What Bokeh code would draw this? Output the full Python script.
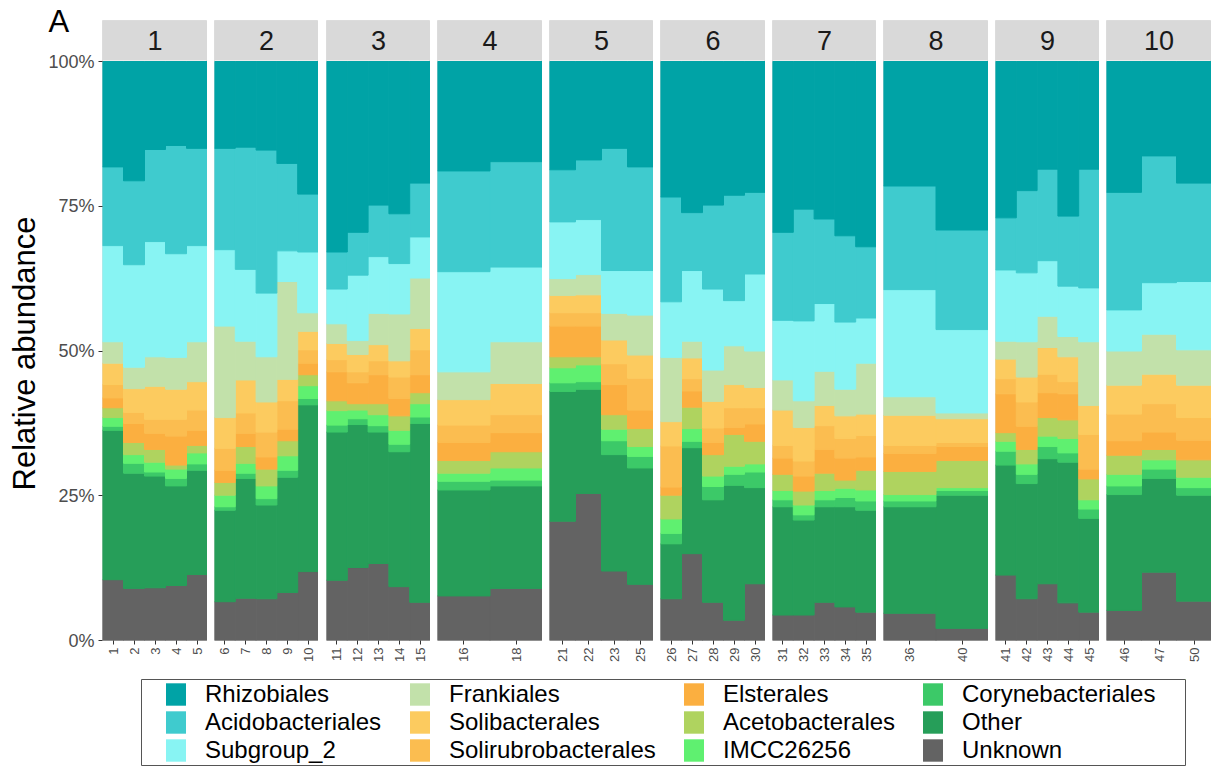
import math
from bokeh.plotting import figure
from bokeh.models import (FactorRange, Range1d, FixedTicker, BoxAnnotation, Label,
                          Legend, LegendItem, ColumnDataSource, Title)
from bokeh.layouts import row, column
from bokeh.embed import file_html
from bokeh.resources import INLINE

FONT = "Liberation Sans"

# ---------------- data ----------------
panel_names = ["1", "2", "3", "4", "5", "6", "7", "8", "9", "10"]
panel_samples = [
    ["1", "2", "3", "4", "5"],
    ["6", "7", "8", "9", "10"],
    ["11", "12", "13", "14", "15"],
    ["16", "18"],
    ["21", "22", "23", "25"],
    ["26", "27", "28", "29", "30"],
    ["31", "32", "33", "34", "35"],
    ["36", "40"],
    ["41", "42", "43", "44", "45"],
    ["46", "47", "50"],
]

# legend / stacking order, top of bar first
order_names = ["Rhizobiales", "Acidobacteriales", "Subgroup_2", "Frankiales",
               "Solibacterales", "Solirubrobacterales", "Elsterales", "Acetobacterales",
               "IMCC26256", "Corynebacteriales", "Other", "Unknown"]
order_colors = ["#00A3A6", "#3FCBCE", "#88F4F3", "#C2E1AA",
                "#FCCB5F", "#FBBD50", "#FBAF40", "#AFD35F",
                "#5FF070", "#3CC968", "#269E59", "#636363"]

# relative abundance (%) per sample, samples in panel order
Rhizobiales = [18.2, 20.6, 15.2, 14.5, 15.0, 15.0, 14.8, 15.3, 17.6, 22.9,
               32.9, 29.5, 24.8, 26.3, 21.0, 18.9, 17.3, 18.7, 17.0, 15.0, 18.2,
               23.4, 26.1, 24.8, 23.1, 22.6, 29.5, 25.5, 27.2, 30.1, 32.0,
               21.5, 29.1, 27.0, 22.3, 18.6, 26.7, 18.6, 22.6, 16.3, 21.0]
Acidobacteriales = [13.6, 14.5, 15.9, 18.7, 16.8, 17.5, 21.1, 24.7, 15.1, 10.0,
                    6.4, 7.4, 8.9, 8.6, 9.3, 17.4, 18.2, 9.0, 10.3, 21.1, 17.9,
                    18.1, 10.0, 14.5, 18.2, 14.1, 15.2, 19.3, 14.6, 14.9, 12.3,
                    17.9, 17.2, 9.0, 14.2, 15.8, 12.1, 20.5, 20.3, 21.9, 17.0]
Subgroup_2 = [16.6, 17.7, 19.9, 17.9, 16.6, 13.2, 12.4, 11.0, 5.3, 10.5,
              6.0, 11.3, 9.8, 8.7, 7.1, 17.3, 12.9, 9.8, 9.5, 7.4, 7.7,
              9.6, 12.2, 14.0, 7.8, 13.3, 10.3, 13.8, 11.7, 11.6, 7.8,
              18.5, 14.4, 12.3, 11.9, 9.6, 8.7, 9.3, 7.1, 8.9, 11.8]
Frankiales = [3.7, 3.7, 5.1, 5.5, 6.9, 15.8, 6.7, 7.8, 16.9, 3.2,
              3.4, 2.4, 5.4, 8.1, 8.7, 4.8, 7.2, 2.9, 3.5, 4.6, 6.9,
              11.1, 2.9, 5.4, 6.7, 6.3, 5.2, 4.6, 5.9, 4.6, 8.8,
              3.2, 1.0, 3.1, 6.1, 5.4, 3.5, 11.0, 5.9, 6.9, 6.1]
Solibacterales = [3.7, 4.1, 5.7, 5.2, 4.9, 5.3, 5.7, 5.2, 3.7, 3.2,
                  2.8, 3.0, 2.8, 2.8, 3.7, 4.4, 5.4, 3.0, 3.1, 4.1, 4.0,
                  4.2, 3.6, 4.6, 4.0, 3.5, 6.1, 5.8, 3.5, 3.9, 3.7,
                  5.2, 4.1, 3.4, 4.3, 4.6, 4.3, 5.0, 5.0, 5.1, 5.6]
Solirubrobacterales = [2.3, 1.9, 2.4, 2.9, 3.5, 3.8, 3.5, 4.3, 4.9, 2.3,
                       2.1, 1.9, 2.4, 3.7, 4.3, 3.0, 3.1, 2.3, 2.3, 3.6, 5.5,
                       7.1, 2.1, 2.5, 3.4, 2.8, 2.2, 2.6, 4.1, 3.4, 3.7,
                       1.4, 0.7, 2.6, 4.2, 3.2, 2.1, 6.0, 4.6, 4.9, 3.9]
Elsterales = [1.7, 3.3, 2.8, 5.0, 2.6, 2.1, 2.3, 2.1, 2.0, 2.0,
              5.0, 3.6, 5.0, 3.0, 3.1, 3.1, 3.3, 5.3, 5.3, 5.2, 3.2,
              1.4, 2.8, 2.1, 1.2, 3.0, 2.8, 2.6, 4.1, 3.8, 2.3,
              3.1, 2.4, 6.7, 4.0, 4.3, 4.5, 1.7, 2.5, 3.0, 3.4]
Acetobacterales = [1.7, 2.1, 2.2, 0.7, 1.3, 2.2, 2.9, 2.9, 2.6, 1.9,
                   1.7, 1.1, 1.9, 2.5, 1.9, 2.2, 2.8, 1.9, 1.4, 2.5, 3.1,
                   4.1, 3.7, 3.7, 5.5, 3.9, 2.8, 2.4, 3.0, 1.4, 3.4,
                   4.0, 4.7, 1.5, 2.5, 3.2, 3.2, 3.6, 3.3, 1.8, 3.0]
IMCC26256 = [1.5, 1.5, 1.7, 1.6, 1.9, 2.0, 1.7, 2.2, 2.5, 2.2,
             2.5, 1.5, 1.9, 2.4, 2.3, 1.4, 2.1, 2.6, 2.9, 2.0, 1.7,
             2.5, 2.2, 1.8, 1.4, 1.4, 1.6, 1.7, 1.6, 1.6, 1.9,
             1.1, 0.5, 1.7, 1.8, 1.8, 2.5, 1.6, 2.0, 1.6, 1.8]
Corynebacteriales = [0.7, 1.7, 0.7, 1.3, 1.1, 0.6, 0.9, 1.1, 1.2, 1.1,
                     1.2, 1.0, 1.1, 1.3, 1.1, 1.5, 1.0, 1.5, 1.3, 2.4, 2.0,
                     1.8, 1.1, 2.3, 1.9, 2.7, 1.2, 0.9, 1.2, 1.6, 1.6,
                     1.0, 0.8, 2.4, 1.6, 2.1, 1.6, 1.6, 1.5, 1.6, 1.3]
Other = [25.8, 19.9, 19.3, 17.2, 18.0, 15.8, 20.7, 16.2, 19.9, 28.8,
         25.6, 24.7, 22.7, 23.3, 30.9, 18.3, 17.7, 22.4, 18.0, 20.1, 20.1,
         9.5, 18.3, 17.7, 23.3, 16.6, 18.7, 16.4, 16.5, 17.3, 17.6,
         18.4, 23.0, 19.0, 19.9, 21.6, 24.3, 16.2, 20.0, 16.2, 18.3]
Unknown = [10.5, 9.0, 9.1, 9.5, 11.4, 6.7, 7.3, 7.2, 8.3, 11.9,
           10.4, 12.6, 13.3, 9.3, 6.6, 7.7, 9.0, 20.6, 25.4, 12.0, 9.7,
           7.2, 15.0, 6.6, 3.5, 9.8, 4.4, 4.4, 6.6, 5.8, 4.9,
           4.7, 2.1, 11.3, 7.2, 9.8, 6.5, 4.9, 5.2, 11.8, 6.8]

series = [Rhizobiales, Acidobacteriales, Subgroup_2, Frankiales, Solibacterales,
          Solirubrobacterales, Elsterales, Acetobacterales, IMCC26256,
          Corynebacteriales, Other, Unknown]

ytick_values = [0, 25, 50, 75, 100]
ytick_labels = ["0%", "25%", "50%", "75%", "100%"]

# ---------------- layout constants ----------------
FRAME_H = 620
PX_PER_UNIT = 5.79          # 100 % -> 579 px
STRIP_TOP = FRAME_H / PX_PER_UNIT
frame_widths = [105, 104, 104, 105, 104, 105, 104, 105, 104, 105]
left_borders = [101, 7, 8, 7, 7, 7, 7, 7, 7, 7]
BORDER_TOP, BORDER_BOTTOM = 20, 36

# position="fill": normalise each sample to 100 %
all_samples = [s for grp in panel_samples for s in grp]
totals = [sum(col[i] for col in series) for i in range(len(all_samples))]

stack_keys = order_names[::-1]        # bottom to top
stack_colors = order_colors[::-1]

figs = []
start = 0
for i, (pname, samples) in enumerate(zip(panel_names, panel_samples)):
    n = len(samples)
    data = {"sample": samples}
    for name, vals in zip(order_names, series):
        data[name] = [vals[start + k] * 100.0 / totals[start + k] for k in range(n)]
    start += n
    src = ColumnDataSource(data)

    p = figure(x_range=FactorRange(factors=samples, range_padding=0),
               y_range=Range1d(0, STRIP_TOP),
               frame_width=frame_widths[i], frame_height=FRAME_H,
               min_border_left=left_borders[i], min_border_right=0,
               min_border_top=BORDER_TOP, min_border_bottom=BORDER_BOTTOM,
               toolbar_location=None, output_backend="svg",
               y_axis_location="left" if i == 0 else None)
    p.vbar_stack(stack_keys, x="sample", width=1.0, source=src,
                 fill_color=stack_colors, line_color=stack_colors, line_width=1)

    p.xgrid.visible = False
    p.ygrid.visible = False
    p.outline_line_color = "#DDDDDD"
    p.outline_line_width = 1
    p.background_fill_color = "white"
    p.border_fill_color = "white"

    # facet strip
    p.add_layout(BoxAnnotation(bottom=100 + 1.0 / PX_PER_UNIT, top=STRIP_TOP,
                               fill_color="#D9D9D9", fill_alpha=1.0, line_color=None))
    p.add_layout(Label(x=n / 2.0, y=(100 + STRIP_TOP) / 2.0 + 0.1, text=pname,
                       text_align="center", text_baseline="middle",
                       text_font=FONT, text_font_size="27px", text_color="#1A1A1A"))

    xa = p.xaxis[0]
    xa.major_label_orientation = math.pi / 2
    xa.axis_line_color = None
    xa.major_tick_line_color = "#333333"
    xa.major_tick_out = 4
    xa.major_tick_in = 0
    xa.major_label_standoff = 3
    xa.major_label_text_font = FONT
    xa.major_label_text_font_size = "13px"
    xa.major_label_text_color = "#4D4D4D"

    if i == 0:
        ya = p.yaxis[0]
        ya.ticker = FixedTicker(ticks=ytick_values)
        ya.major_label_overrides = dict(zip(ytick_values, ytick_labels))
        ya.axis_line_color = None
        ya.minor_tick_line_color = None
        ya.major_tick_line_color = "#333333"
        ya.major_tick_out = 4
        ya.major_tick_in = 0
        ya.major_label_standoff = 4
        ya.major_label_text_font = FONT
        ya.major_label_text_font_size = "18px"
        ya.major_label_text_color = "#4D4D4D"
        p.add_layout(Title(text="Relative abundance", align="left", offset=150,
                           standoff=8, text_font=FONT, text_font_size="31px",
                           text_font_style="normal", text_color="black"), "left")
        # plot tag "A": a title in the (unclipped) top panel, pulled left and down
        tag = Title(text="A", align="left", offset=-54, text_font=FONT,
                    text_font_size="31px", text_font_style="normal", text_color="black")
        try:
            tag.standoff = -36
        except Exception:
            tag.standoff = 0
        p.add_layout(tag, "above")
    figs.append(p)

# ---------------- legend ----------------
lg = figure(x_range=Range1d(0, 1), y_range=Range1d(0, 1),
            frame_width=1044, frame_height=86,
            min_border_left=141, min_border_right=26, min_border_top=3, min_border_bottom=1,
            x_axis_location=None, y_axis_location=None,
            toolbar_location=None, output_backend="svg")
lg.xgrid.visible = False
lg.ygrid.visible = False
lg.outline_line_color = "#555555"
lg.outline_line_width = 1

dummies = []
for name, c in zip(order_names, order_colors):
    # off-range point: only used to give the legend its key glyph
    r = lg.vbar(x=[5], top=[6], bottom=[5], width=0.1,
                fill_color=c, line_color=None)
    dummies.append(r)

col_x = [22, 266, 540, 779]
for c in range(4):
    items = [LegendItem(label=order_names[k], renderers=[dummies[k]])
             for k in range(c * 3, c * 3 + 3)]
    leg = Legend(items=items, location=(col_x[c], 1), orientation="vertical",
                 border_line_color=None, background_fill_alpha=0,
                 padding=0, margin=0, spacing=0,
                 glyph_width=25, glyph_height=28, label_standoff=17,
                 label_height=20,
                 label_text_font=FONT, label_text_font_size="24px",
                 label_text_color="black")
    lg.add_layout(leg)

layout = column(row(*figs), lg)
open("out.html", "w").write(file_html(layout, INLINE))
